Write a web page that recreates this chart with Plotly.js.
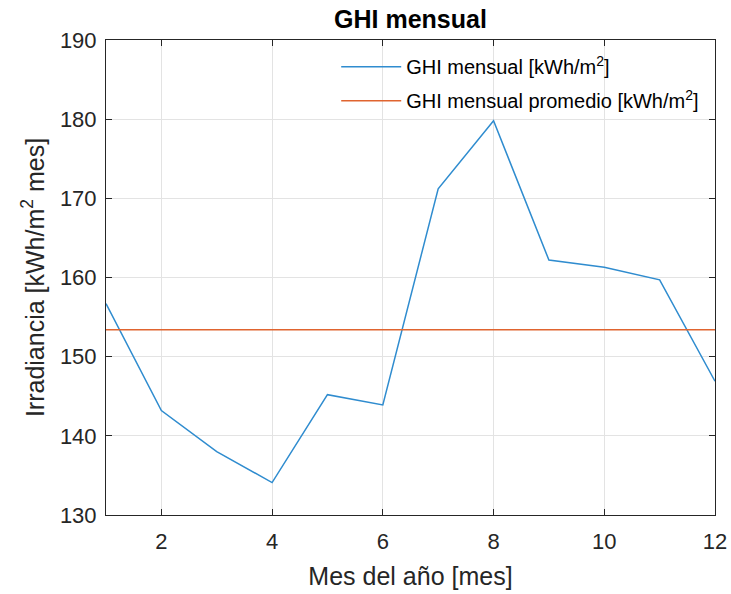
<!DOCTYPE html>
<html>
<head>
<meta charset="utf-8">
<script src="https://cdn.plot.ly/plotly-3.0.1.min.js"></script>
<style>html,body{margin:0;padding:0;background:#fff;}#chart{width:731px;height:594px;}</style>
</head>
<body>
<div id="chart"></div>
<script>
const months = [1, 2, 3, 4, 5, 6, 7, 8, 9, 10, 11, 12];
const ghiMensual = [156.7, 143.2, 138.0, 134.1, 145.2, 143.9, 171.2, 179.8, 162.2, 161.3, 159.7, 146.9];
const ghiPromedio = [153.4, 153.4];
const promedioX = [1, 12];
const xTicks = [2, 4, 6, 8, 10, 12];
const yTicks = [130, 140, 150, 160, 170, 180, 190];

const font = "Liberation Sans, Arial, Helvetica, sans-serif";

const traces = [
  {
    x: months, y: ghiMensual, type: 'scatter', mode: 'lines',
    name: 'GHI mensual [kWh/m<sup>2</sup>]', legendgroup: 'a',
    line: {color: '#2f8ccf', width: 1.5}
  },
  {
    x: promedioX, y: ghiPromedio, type: 'scatter', mode: 'lines',
    name: 'GHI mensual promedio [kWh/m<sup>2</sup>]', legendgroup: 'b',
    line: {color: '#e0642f', width: 1.5}
  }
];

const axisCommon = {
  showline: true, linecolor: '#262626', linewidth: 1, mirror: 'ticks',
  ticks: 'inside', ticklen: 6, tickcolor: '#262626',
  showgrid: true, gridcolor: '#e3e3e3', gridwidth: 1,
  zeroline: false,
  tickfont: {family: font, size: 22, color: '#262626'}
};

const layout = {
  width: 731, height: 594,
  margin: {l: 106, r: 16, t: 40, b: 79},
  paper_bgcolor: '#ffffff', plot_bgcolor: '#ffffff',
  title: {text: '<b>GHI mensual</b>', font: {family: font, size: 25, color: '#000'},
    x: 0.5, xanchor: 'center', xref: 'paper', yref: 'container', y: 0.968, yanchor: 'middle'},
  xaxis: Object.assign({}, axisCommon, {
    range: [1, 12], tickvals: xTicks, ticktext: xTicks.map(String),
    ticklabelstandoff: 7,
    title: {text: 'Mes del año [mes]', font: {family: font, size: 25, color: '#262626'}, standoff: 14}
  }),
  yaxis: Object.assign({}, axisCommon, {
    range: [130, 190], tickvals: yTicks, ticktext: yTicks.map(String),
    ticklabelstandoff: 4,
    title: {text: 'Irradiancia [kWh/m<sup>2</sup> mes]', font: {family: font, size: 25, color: '#262626'}, standoff: 8}
  }),
  legend: {
    x: 0.378, y: 0.985, xanchor: 'left', yanchor: 'top',
    bgcolor: 'rgba(0,0,0,0)', borderwidth: 0,
    font: {family: font, size: 20, color: '#000'},
    itemwidth: 60,
    tracegroupgap: 5
  },
  showlegend: true
};

Plotly.newPlot('chart', traces, layout, {staticPlot: true, displayModeBar: false});
</script>
</body>
</html>
